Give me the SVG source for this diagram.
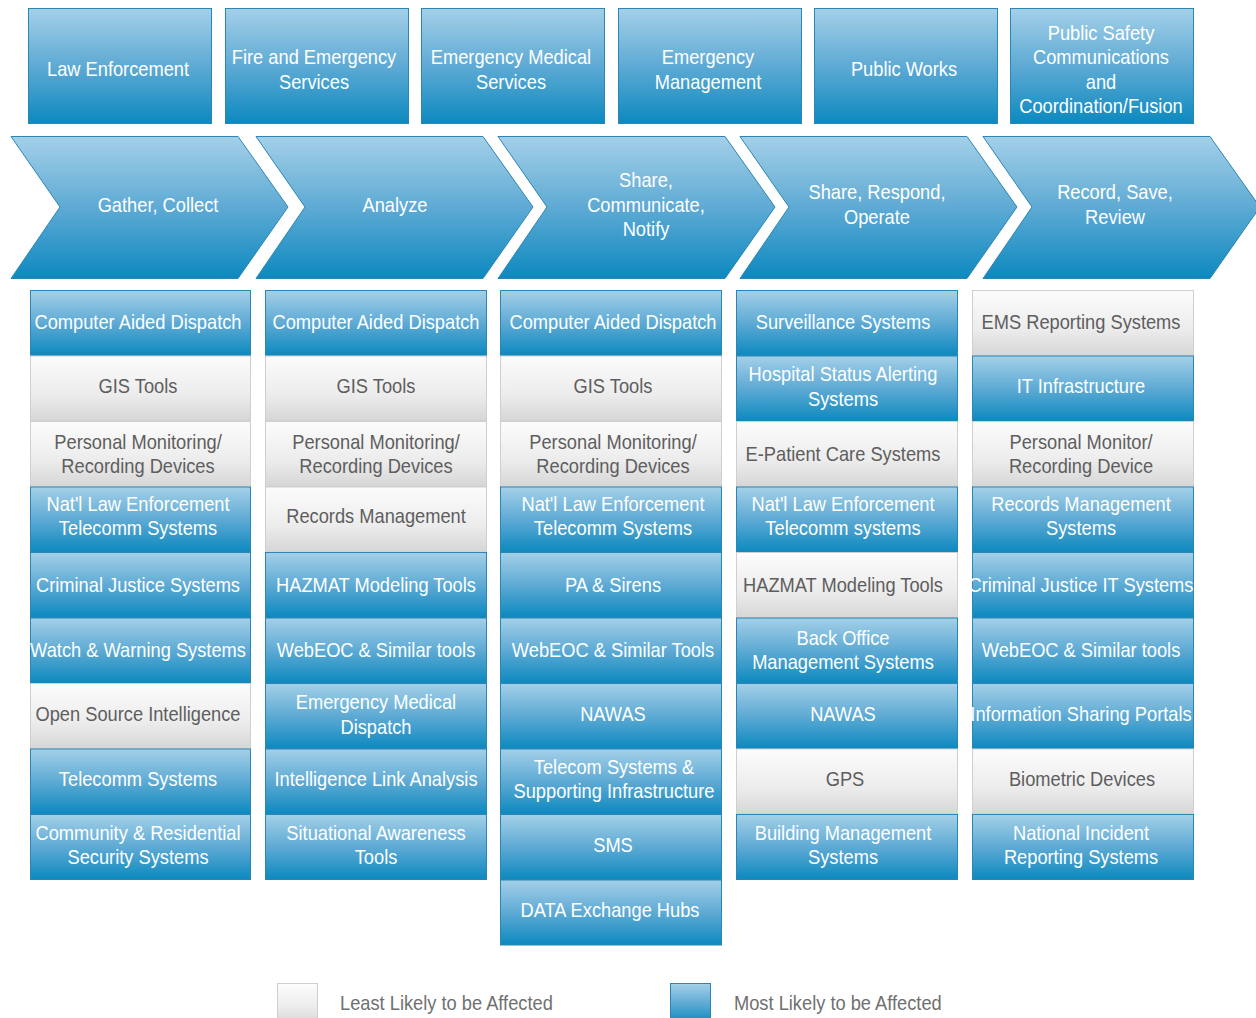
<svg xmlns="http://www.w3.org/2000/svg" width="1256" height="1018" viewBox="0 0 1256 1018">
<defs>
<linearGradient id="gb" x1="0" y1="0" x2="0" y2="1">
<stop offset="0" stop-color="#a4d0e8"/>
<stop offset="0.5" stop-color="#5eaad4"/>
<stop offset="1" stop-color="#0c89bf"/>
</linearGradient>
<linearGradient id="gg" x1="0" y1="0" x2="0" y2="1">
<stop offset="0" stop-color="#fcfcfc"/>
<stop offset="0.6" stop-color="#ececec"/>
<stop offset="1" stop-color="#d6d6d6"/>
</linearGradient>
<style>
.b{fill:url(#gb);stroke:#2a86b4;stroke-width:1}
.g{fill:url(#gg);stroke:#cfcfcf;stroke-width:1}
text{font-family:"Liberation Sans Narrow","Liberation Sans",Arial,sans-serif;font-size:21px;text-anchor:middle;transform:scaleX(0.87);transform-box:fill-box;transform-origin:center}
.w{fill:#ffffff}
.d{fill:#5e5e5e}
.l{fill:#707070;text-anchor:start;transform-origin:left center}
</style>
</defs>
<rect width="1256" height="1018" fill="#ffffff"/>
<g id="headers">
<g id="h1"><rect class="b" x="28.5" y="8.5" width="183" height="115"/><text class="w" x="118" y="76">Law Enforcement</text></g>
<g id="h2"><rect class="b" x="225.5" y="8.5" width="183" height="115"/><text class="w" x="314" y="64">Fire and Emergency</text><text class="w" x="314" y="89">Services</text></g>
<g id="h3"><rect class="b" x="421.5" y="8.5" width="183" height="115"/><text class="w" x="511" y="64">Emergency Medical</text><text class="w" x="511" y="89">Services</text></g>
<g id="h4"><rect class="b" x="618.5" y="8.5" width="183" height="115"/><text class="w" x="708" y="64">Emergency</text><text class="w" x="708" y="89">Management</text></g>
<g id="h5"><rect class="b" x="814.5" y="8.5" width="183" height="115"/><text class="w" x="904" y="76">Public Works</text></g>
<g id="h6"><rect class="b" x="1010.5" y="8.5" width="183" height="115"/><text class="w" x="1101" y="40">Public Safety</text><text class="w" x="1101" y="64">Communications</text><text class="w" x="1101" y="89">and</text><text class="w" x="1101" y="113">Coordination/Fusion</text></g>
</g>
<g id="chevrons">
<g id="c1"><path class="b" d="M11,136.5 L238,136.5 L288,207 L238,278.5 L11,278.5 L60,207 Z"/><text class="w" x="158" y="212">Gather, Collect</text></g>
<g id="c2"><path class="b" d="M256,136.5 L483,136.5 L533,207 L483,278.5 L256,278.5 L305,207 Z"/><text class="w" x="395" y="212">Analyze</text></g>
<g id="c3"><path class="b" d="M498,136.5 L725,136.5 L775,207 L725,278.5 L498,278.5 L547,207 Z"/><text class="w" x="646" y="187">Share,</text><text class="w" x="646" y="212">Communicate,</text><text class="w" x="646" y="236">Notify</text></g>
<g id="c4"><path class="b" d="M740,136.5 L967,136.5 L1017,207 L967,278.5 L740,278.5 L789,207 Z"/><text class="w" x="877" y="199">Share, Respond,</text><text class="w" x="877" y="224">Operate</text></g>
<g id="c5"><path class="b" d="M983,136.5 L1210,136.5 L1260,207 L1210,278.5 L983,278.5 L1032,207 Z"/><text class="w" x="1115" y="199">Record, Save,</text><text class="w" x="1115" y="224">Review</text></g>
</g>
<g id="col1">
<g id="c1r1"><rect class="b" x="30.5" y="290.5" width="220" height="65"/><text class="w" x="138" y="329">Computer Aided Dispatch</text></g>
<g id="c1r2"><rect class="g" x="30.5" y="356" width="220" height="65"/><text class="d" x="138" y="393">GIS Tools</text></g>
<g id="c1r3"><rect class="g" x="30.5" y="421.5" width="220" height="65"/><text class="d" x="138" y="449">Personal Monitoring/</text><text class="d" x="138" y="473">Recording Devices</text></g>
<g id="c1r4"><rect class="b" x="30.5" y="487" width="220" height="65"/><text class="w" x="138" y="511">Nat'l Law Enforcement</text><text class="w" x="138" y="535">Telecomm Systems</text></g>
<g id="c1r5"><rect class="b" x="30.5" y="552.5" width="220" height="65"/><text class="w" x="138" y="592">Criminal Justice Systems</text></g>
<g id="c1r6"><rect class="b" x="30.5" y="618" width="220" height="65"/><text class="w" x="138" y="657">Watch &amp; Warning Systems</text></g>
<g id="c1r7"><rect class="g" x="30.5" y="683.5" width="220" height="65"/><text class="d" x="138" y="721">Open Source Intelligence</text></g>
<g id="c1r8"><rect class="b" x="30.5" y="749" width="220" height="65"/><text class="w" x="138" y="786">Telecomm Systems</text></g>
<g id="c1r9"><rect class="b" x="30.5" y="814.5" width="220" height="65"/><text class="w" x="138" y="840">Community &amp; Residential</text><text class="w" x="138" y="864">Security Systems</text></g>
</g>
<g id="col2">
<g id="c2r1"><rect class="b" x="265.5" y="290.5" width="221" height="65"/><text class="w" x="376" y="329">Computer Aided Dispatch</text></g>
<g id="c2r2"><rect class="g" x="265.5" y="356" width="221" height="65"/><text class="d" x="376" y="393">GIS Tools</text></g>
<g id="c2r3"><rect class="g" x="265.5" y="421.5" width="221" height="65"/><text class="d" x="376" y="449">Personal Monitoring/</text><text class="d" x="376" y="473">Recording Devices</text></g>
<g id="c2r4"><rect class="g" x="265.5" y="487" width="221" height="65"/><text class="d" x="376" y="523">Records Management</text></g>
<g id="c2r5"><rect class="b" x="265.5" y="552.5" width="221" height="65"/><text class="w" x="376" y="592">HAZMAT Modeling Tools</text></g>
<g id="c2r6"><rect class="b" x="265.5" y="618" width="221" height="65"/><text class="w" x="376" y="657">WebEOC &amp; Similar tools</text></g>
<g id="c2r7"><rect class="b" x="265.5" y="683.5" width="221" height="65"/><text class="w" x="376" y="709">Emergency Medical</text><text class="w" x="376" y="734">Dispatch</text></g>
<g id="c2r8"><rect class="b" x="265.5" y="749" width="221" height="65"/><text class="w" x="376" y="786">Intelligence Link Analysis</text></g>
<g id="c2r9"><rect class="b" x="265.5" y="814.5" width="221" height="65"/><text class="w" x="376" y="840">Situational Awareness</text><text class="w" x="376" y="864">Tools</text></g>
</g>
<g id="col3">
<g id="c3r1"><rect class="b" x="500.5" y="290.5" width="221" height="65"/><text class="w" x="613" y="329">Computer Aided Dispatch</text></g>
<g id="c3r2"><rect class="g" x="500.5" y="356" width="221" height="65"/><text class="d" x="613" y="393">GIS Tools</text></g>
<g id="c3r3"><rect class="g" x="500.5" y="421.5" width="221" height="65"/><text class="d" x="613" y="449">Personal Monitoring/</text><text class="d" x="613" y="473">Recording Devices</text></g>
<g id="c3r4"><rect class="b" x="500.5" y="487" width="221" height="65"/><text class="w" x="613" y="511">Nat'l Law Enforcement</text><text class="w" x="613" y="535">Telecomm Systems</text></g>
<g id="c3r5"><rect class="b" x="500.5" y="552.5" width="221" height="65"/><text class="w" x="613" y="592">PA &amp; Sirens</text></g>
<g id="c3r6"><rect class="b" x="500.5" y="618" width="221" height="65"/><text class="w" x="613" y="657">WebEOC &amp; Similar Tools</text></g>
<g id="c3r7"><rect class="b" x="500.5" y="683.5" width="221" height="65"/><text class="w" x="613" y="721">NAWAS</text></g>
<g id="c3r8"><rect class="b" x="500.5" y="749" width="221" height="65"/><text class="w" x="614" y="774">Telecom Systems &amp;</text><text class="w" x="614" y="798">Supporting Infrastructure</text></g>
<g id="c3r9"><rect class="b" x="500.5" y="814.5" width="221" height="65"/><text class="w" x="613" y="852">SMS</text></g>
<g id="c3r10"><rect class="b" x="500.5" y="880" width="221" height="65"/><text class="w" x="610" y="917">DATA Exchange Hubs</text></g>
</g>
<g id="col4">
<g id="c4r1"><rect class="b" x="736.5" y="290.5" width="221" height="65"/><text class="w" x="843" y="329">Surveillance Systems</text></g>
<g id="c4r2"><rect class="b" x="736.5" y="356" width="221" height="65"/><text class="w" x="843" y="381">Hospital Status Alerting</text><text class="w" x="843" y="406">Systems</text></g>
<g id="c4r3"><rect class="g" x="736.5" y="421.5" width="221" height="65"/><text class="d" x="843" y="461">E-Patient Care Systems</text></g>
<g id="c4r4"><rect class="b" x="736.5" y="487" width="221" height="65"/><text class="w" x="843" y="511">Nat'l Law Enforcement</text><text class="w" x="843" y="535">Telecomm systems</text></g>
<g id="c4r5"><rect class="g" x="736.5" y="552.5" width="221" height="65"/><text class="d" x="843" y="592">HAZMAT Modeling Tools</text></g>
<g id="c4r6"><rect class="b" x="736.5" y="618" width="221" height="65"/><text class="w" x="843" y="645">Back Office</text><text class="w" x="843" y="669">Management Systems</text></g>
<g id="c4r7"><rect class="b" x="736.5" y="683.5" width="221" height="65"/><text class="w" x="843" y="721">NAWAS</text></g>
<g id="c4r8"><rect class="g" x="736.5" y="749" width="221" height="65"/><text class="d" x="845" y="786">GPS</text></g>
<g id="c4r9"><rect class="b" x="736.5" y="814.5" width="221" height="65"/><text class="w" x="843" y="840">Building Management</text><text class="w" x="843" y="864">Systems</text></g>
</g>
<g id="col5">
<g id="c5r1"><rect class="g" x="972.5" y="290.5" width="221" height="65"/><text class="d" x="1081" y="329">EMS Reporting Systems</text></g>
<g id="c5r2"><rect class="b" x="972.5" y="356" width="221" height="65"/><text class="w" x="1081" y="393">IT Infrastructure</text></g>
<g id="c5r3"><rect class="g" x="972.5" y="421.5" width="221" height="65"/><text class="d" x="1081" y="449">Personal Monitor/</text><text class="d" x="1081" y="473">Recording Device</text></g>
<g id="c5r4"><rect class="b" x="972.5" y="487" width="221" height="65"/><text class="w" x="1081" y="511">Records Management</text><text class="w" x="1081" y="535">Systems</text></g>
<g id="c5r5"><rect class="b" x="972.5" y="552.5" width="221" height="65"/><text class="w" x="1081" y="592">Criminal Justice IT Systems</text></g>
<g id="c5r6"><rect class="b" x="972.5" y="618" width="221" height="65"/><text class="w" x="1081" y="657">WebEOC &amp; Similar tools</text></g>
<g id="c5r7"><rect class="b" x="972.5" y="683.5" width="221" height="65"/><text class="w" x="1081" y="721">Information Sharing Portals</text></g>
<g id="c5r8"><rect class="g" x="972.5" y="749" width="221" height="65"/><text class="d" x="1082" y="786">Biometric Devices</text></g>
<g id="c5r9"><rect class="b" x="972.5" y="814.5" width="221" height="65"/><text class="w" x="1081" y="840">National Incident</text><text class="w" x="1081" y="864">Reporting Systems</text></g>
</g>
<g id="legend">
<rect class="g" x="277.5" y="983.5" width="40" height="40"/>
<text class="l" x="340" y="1010">Least Likely to be Affected</text>
<rect class="b" x="670.5" y="983.5" width="40" height="40"/>
<text class="l" x="734" y="1010">Most Likely to be Affected</text>
</g>
</svg>
